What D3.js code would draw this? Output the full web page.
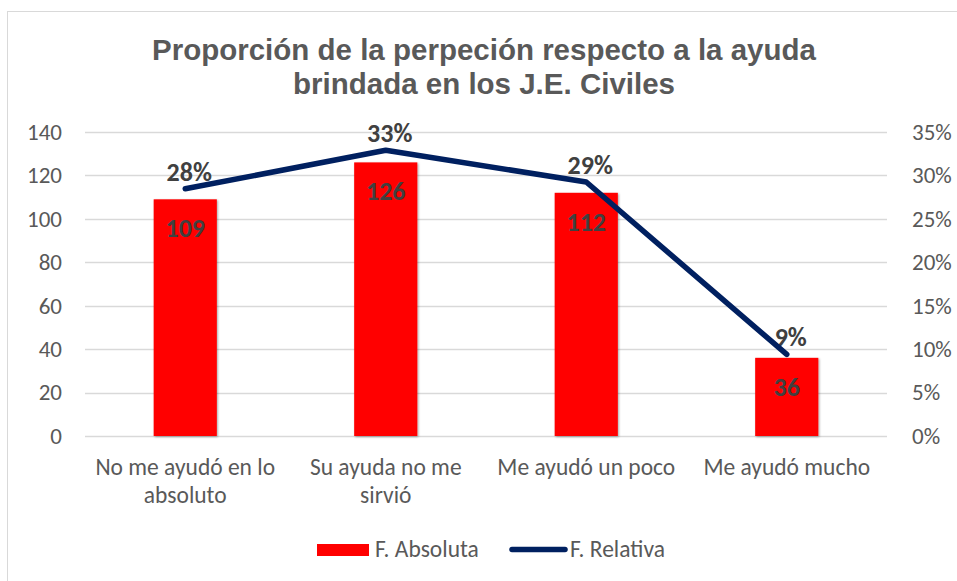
<!DOCTYPE html>
<html><head><meta charset="utf-8">
<script src="https://cdn.jsdelivr.net/npm/d3@7"></script>
<style>body{margin:0;background:#fff}</style>
</head><body>
<script>
const categories = [["No me ayudó en lo","absoluto"],["Su ayuda no me","sirvió"],["Me ayudó un poco"],["Me ayudó mucho"]];
const absoluta = [109, 126, 112, 36];
const relativa = [0.2846, 0.329, 0.2924, 0.094];
const relLabels = ["28%","33%","29%","9%"];
const leftTicks = [0,20,40,60,80,100,120,140];
const rightTicks = [0,0.05,0.10,0.15,0.20,0.25,0.30,0.35];
const titleLines = ["Proporción de la perpeción respecto a la ayuda","brindada en los J.E. Civiles"];
const seriesNames = ["F. Absoluta","F. Relativa"];

const W=957,H=581;
const svg=d3.select("body").append("svg").attr("width",W).attr("height",H);
const font="Carlito, Lato, 'Open Sans', sans-serif";
svg.append("rect").attr("x",7.5).attr("y",11.5).attr("width",W+10).attr("height",H+10).attr("fill","#fff").attr("stroke","#d9d9d9");

const x=d3.scaleBand().domain(d3.range(categories.length)).range([85,887]).paddingInner(0.685).paddingOuter(0.3425);
const y=d3.scaleLinear().domain([0,140]).range([436,132]);
const y2=d3.scaleLinear().domain([0,0.35]).range([436,132]);

// title
svg.append("g").selectAll("text").data(titleLines).join("text")
 .attr("x",484).attr("y",(d,i)=>60+i*34).attr("text-anchor","middle")
 .attr("font-family","'Liberation Sans', Arial, sans-serif").attr("font-weight","bold").attr("font-size",29.5)
 .attr("fill","#595959").text(d=>d);

// gridlines
svg.append("g").selectAll("line").data(leftTicks).join("line")
 .attr("x1",85).attr("x2",887).attr("y1",d=>Math.round(y(d))+0.5).attr("y2",d=>Math.round(y(d))+0.5)
 .attr("stroke","#d9d9d9").attr("stroke-width",1.3);

// left axis
const ax=svg.append("g").attr("transform","translate(85,0)").call(d3.axisLeft(y).tickValues(leftTicks).tickSize(0).tickPadding(23));
ax.select(".domain").remove();
ax.selectAll("text").attr("font-family",font).attr("font-size",23).attr("fill","#595959");
// right axis
const ax2=svg.append("g").attr("transform","translate(887,0)").call(d3.axisRight(y2).tickValues(rightTicks).tickSize(0).tickPadding(25).tickFormat(d3.format(".0%")));
ax2.select(".domain").remove();
ax2.selectAll("text").attr("font-family",font).attr("font-size",23).attr("fill","#595959");

// shadow filter
const defs=svg.append("defs");
const f=defs.append("filter").attr("id","sh").attr("x","-20%").attr("y","-20%").attr("width","140%").attr("height","140%");
f.append("feDropShadow").attr("dx",1).attr("dy",1).attr("stdDeviation",1.2).attr("flood-color","#000").attr("flood-opacity",0.35);

// bars
svg.append("g").selectAll("rect").data(absoluta).join("rect")
 .attr("x",(d,i)=>x(i)).attr("width",x.bandwidth()).attr("y",d=>y(d)).attr("height",d=>y(0)-y(d))
 .attr("fill","#ff0000").attr("filter","url(#sh)");
svg.append("g").selectAll("text").data(absoluta).join("text")
 .attr("x",(d,i)=>x(i)+x.bandwidth()/2).attr("y",d=>y(d)+38).attr("text-anchor","middle")
 .attr("font-family",font).attr("font-weight","bold").attr("font-size",26).attr("fill","#404040").text(d=>d);

// x labels
svg.append("g").selectAll("g").data(categories).join("g").each(function(lines,i){
  d3.select(this).selectAll("text").data(lines).join("text")
   .attr("x",x(i)+x.bandwidth()/2).attr("y",(d,j)=>475+j*28).attr("text-anchor","middle")
   .attr("font-family",font).attr("font-size",23.5).attr("fill","#595959").text(d=>d);
});

// line labels (drawn under the line)
svg.append("g").selectAll("text").data(relativa).join("text")
 .attr("x",(d,i)=>x(i)+x.bandwidth()/2+4).attr("y",d=>y2(d)-8).attr("text-anchor","middle")
 .attr("font-family",font).attr("font-weight","bold").attr("font-size",26).attr("fill","#404040").text((d,i)=>relLabels[i]);

// line
const line=d3.line().x((d,i)=>x(i)+x.bandwidth()/2).y(d=>y2(d));
svg.append("path").datum(relativa).attr("d",line).attr("fill","none").attr("stroke","#002060")
 .attr("stroke-width",5.5).attr("stroke-linecap","round").attr("stroke-linejoin","round");

// legend
const lg=svg.append("g");
lg.append("rect").attr("x",317).attr("y",544).attr("width",52).attr("height",12).attr("fill","#ff0000");
lg.append("text").attr("x",375).attr("y",557).attr("font-family",font).attr("font-size",23.5).attr("fill","#595959").text(seriesNames[0]);
lg.append("line").attr("x1",512).attr("x2",565).attr("y1",549.5).attr("y2",549.5).attr("stroke","#002060").attr("stroke-width",5.5).attr("stroke-linecap","round");
lg.append("text").attr("x",570).attr("y",557).attr("font-family",font).attr("font-size",23.5).attr("fill","#595959").text(seriesNames[1]);
</script>
</body></html>
